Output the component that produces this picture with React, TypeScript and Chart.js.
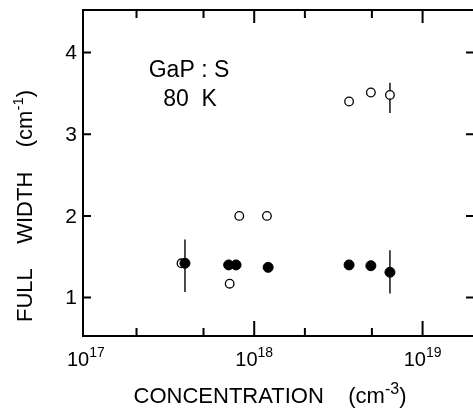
import { useEffect, useRef } from "react";
import { Chart, registerables } from "chart.js";

Chart.register(...registerables);

// Open circles
const openX = [3.7e17, 7.15e17, 8.15e17, 1.19e18, 3.66e18, 4.93e18, 6.4e18];
const openY = [1.42, 1.17, 2.0, 2.0, 3.4, 3.51, 3.48];
// Filled circles
const filledX = [3.88e17, 7.05e17, 7.8e17, 1.21e18, 3.66e18, 4.93e18, 6.4e18];
const filledY = [1.42, 1.4, 1.4, 1.37, 1.4, 1.39, 1.31];
// Error bars
const errX = [3.88e17, 6.4e18, 6.4e18];
const errLow = [1.07, 1.05, 3.26];
const errHigh = [1.71, 1.58, 3.63];

const X_MIN = 9.62e16;
const X_MAX = 2.02e19;
const Y_MIN = 0.53;
const Y_MAX = 4.52;

const yTicks = [1, 2, 3, 4];
const xMajorTicks = [1e17, 1e18, 1e19];
const xMajorExp = ["17", "18", "19"];
const xMinorTicks = [2e17, 5e17, 2e18, 5e18];

const FONT = '"Liberation Sans", Arial, Helvetica, sans-serif';

type Piece = { t: string; size: number; rise: number };

function drawPieces(ctx: CanvasRenderingContext2D, pieces: Piece[], cx: number, baseline: number) {
  let total = 0;
  const widths = pieces.map((p) => {
    ctx.font = `${p.size}px ${FONT}`;
    const w = ctx.measureText(p.t).width;
    total += w;
    return w;
  });
  let x = cx - total / 2;
  ctx.textAlign = "left";
  ctx.textBaseline = "alphabetic";
  pieces.forEach((p, i) => {
    ctx.font = `${p.size}px ${FONT}`;
    ctx.fillText(p.t, x, baseline - p.rise);
    x += widths[i];
  });
}

const decoPlugin = {
  id: "deco",
  beforeDatasetsDraw(chart: any) {
    const ctx = chart.ctx as CanvasRenderingContext2D;
    const xs = chart.scales.x;
    const ys = chart.scales.y;
    ctx.save();
    ctx.strokeStyle = "#000";
    ctx.lineWidth = 1.4;
    errX.forEach((x, i) => {
      const px = xs.getPixelForValue(x);
      ctx.beginPath();
      ctx.moveTo(px, ys.getPixelForValue(errLow[i]));
      ctx.lineTo(px, ys.getPixelForValue(errHigh[i]));
      ctx.stroke();
    });
    ctx.restore();
  },
  afterDraw(chart: any) {
    const ctx = chart.ctx as CanvasRenderingContext2D;
    const xs = chart.scales.x;
    const ys = chart.scales.y;
    const { left, right, top, bottom } = chart.chartArea;
    ctx.save();
    ctx.strokeStyle = "#000";
    ctx.fillStyle = "#000";
    ctx.lineWidth = 2;
    ctx.beginPath();
    ctx.rect(left, top, right - left, bottom - top);
    ctx.stroke();

    // x ticks
    ctx.beginPath();
    xMajorTicks.forEach((v) => {
      const p = xs.getPixelForValue(v);
      if (p < left + 4 || p > right - 1) return;
      ctx.moveTo(p, bottom);
      ctx.lineTo(p, bottom - 15);
      ctx.moveTo(p, top);
      ctx.lineTo(p, top + 13);
    });
    xMinorTicks.forEach((v) => {
      const p = xs.getPixelForValue(v);
      ctx.moveTo(p, bottom);
      ctx.lineTo(p, bottom - 8);
      ctx.moveTo(p, top);
      ctx.lineTo(p, top + 8);
    });
    // y ticks
    yTicks.forEach((v) => {
      const p = ys.getPixelForValue(v);
      ctx.moveTo(left - 1, p);
      ctx.lineTo(left + 8, p);
      ctx.moveTo(right, p);
      ctx.lineTo(right - 8, p);
    });
    ctx.stroke();

    // y tick labels
    ctx.font = `21px ${FONT}`;
    ctx.textAlign = "right";
    ctx.textBaseline = "middle";
    yTicks.forEach((v) => {
      ctx.fillText(String(v), left - 6, ys.getPixelForValue(v) + 1);
    });

    // x tick labels
    xMajorTicks.forEach((v, i) => {
      const p = xs.getPixelForValue(v);
      drawPieces(
        ctx,
        [
          { t: "10", size: 20, rise: 0 },
          { t: xMajorExp[i], size: 14, rise: 9 },
        ],
        p,
        bottom + 30
      );
    });

    // x title
    drawPieces(
      ctx,
      [
        { t: "CONCENTRATION    (cm", size: 22, rise: 0 },
        { t: "-3", size: 16, rise: 9 },
        { t: ")", size: 22, rise: 0 },
      ],
      270,
      bottom + 67
    );

    // y title
    ctx.save();
    ctx.translate(32, 206);
    ctx.rotate(-Math.PI / 2);
    drawPieces(
      ctx,
      [
        { t: "FULL    WIDTH    (cm", size: 22, rise: 0 },
        { t: "-1", size: 15, rise: 9 },
        { t: ")", size: 22, rise: 0 },
      ],
      0,
      0
    );
    ctx.restore();

    // annotation
    ctx.font = `23px ${FONT}`;
    ctx.textAlign = "center";
    ctx.textBaseline = "middle";
    ctx.fillText("GaP : S", 189, 71);
    ctx.fillText("80  K", 190, 100);
    ctx.restore();
  },
};

export default function App() {
  const ref = useRef<HTMLCanvasElement>(null);
  useEffect(() => {
    const chart = new Chart(ref.current!, {
      type: "scatter",
      data: {
        datasets: [
          {
            data: filledX.map((x, i) => ({ x, y: filledY[i] })),
            pointRadius: 5,
            pointBackgroundColor: "#000",
            pointBorderColor: "#000",
            pointBorderWidth: 1,
            order: 0,
          },
          {
            data: openX.map((x, i) => ({ x, y: openY[i] })),
            pointRadius: 4.3,
            pointBackgroundColor: "#fff",
            pointBorderColor: "#000",
            pointBorderWidth: 1.3,
            order: 1,
          },
        ],
      },
      options: {
        responsive: false,
        animation: false,
        devicePixelRatio: 1,
        events: [],
        layout: { padding: { left: 83, top: 10, right: 16, bottom: 72 } },
        plugins: { legend: { display: false }, tooltip: { enabled: false } },
        scales: {
          x: { type: "logarithmic", min: X_MIN, max: X_MAX, display: false },
          y: { type: "linear", min: Y_MIN, max: Y_MAX, display: false },
        },
      },
      plugins: [decoPlugin],
    });
    return () => chart.destroy();
  }, []);
  return (
    <div
      style={{
        position: "fixed",
        left: 0,
        top: 0,
        width: 473,
        height: 408,
        overflow: "hidden",
        background: "#fff",
      }}
    >
      <canvas ref={ref} width={490} height={408} style={{ display: "block", width: 490, height: 408 }} />
    </div>
  );
}
